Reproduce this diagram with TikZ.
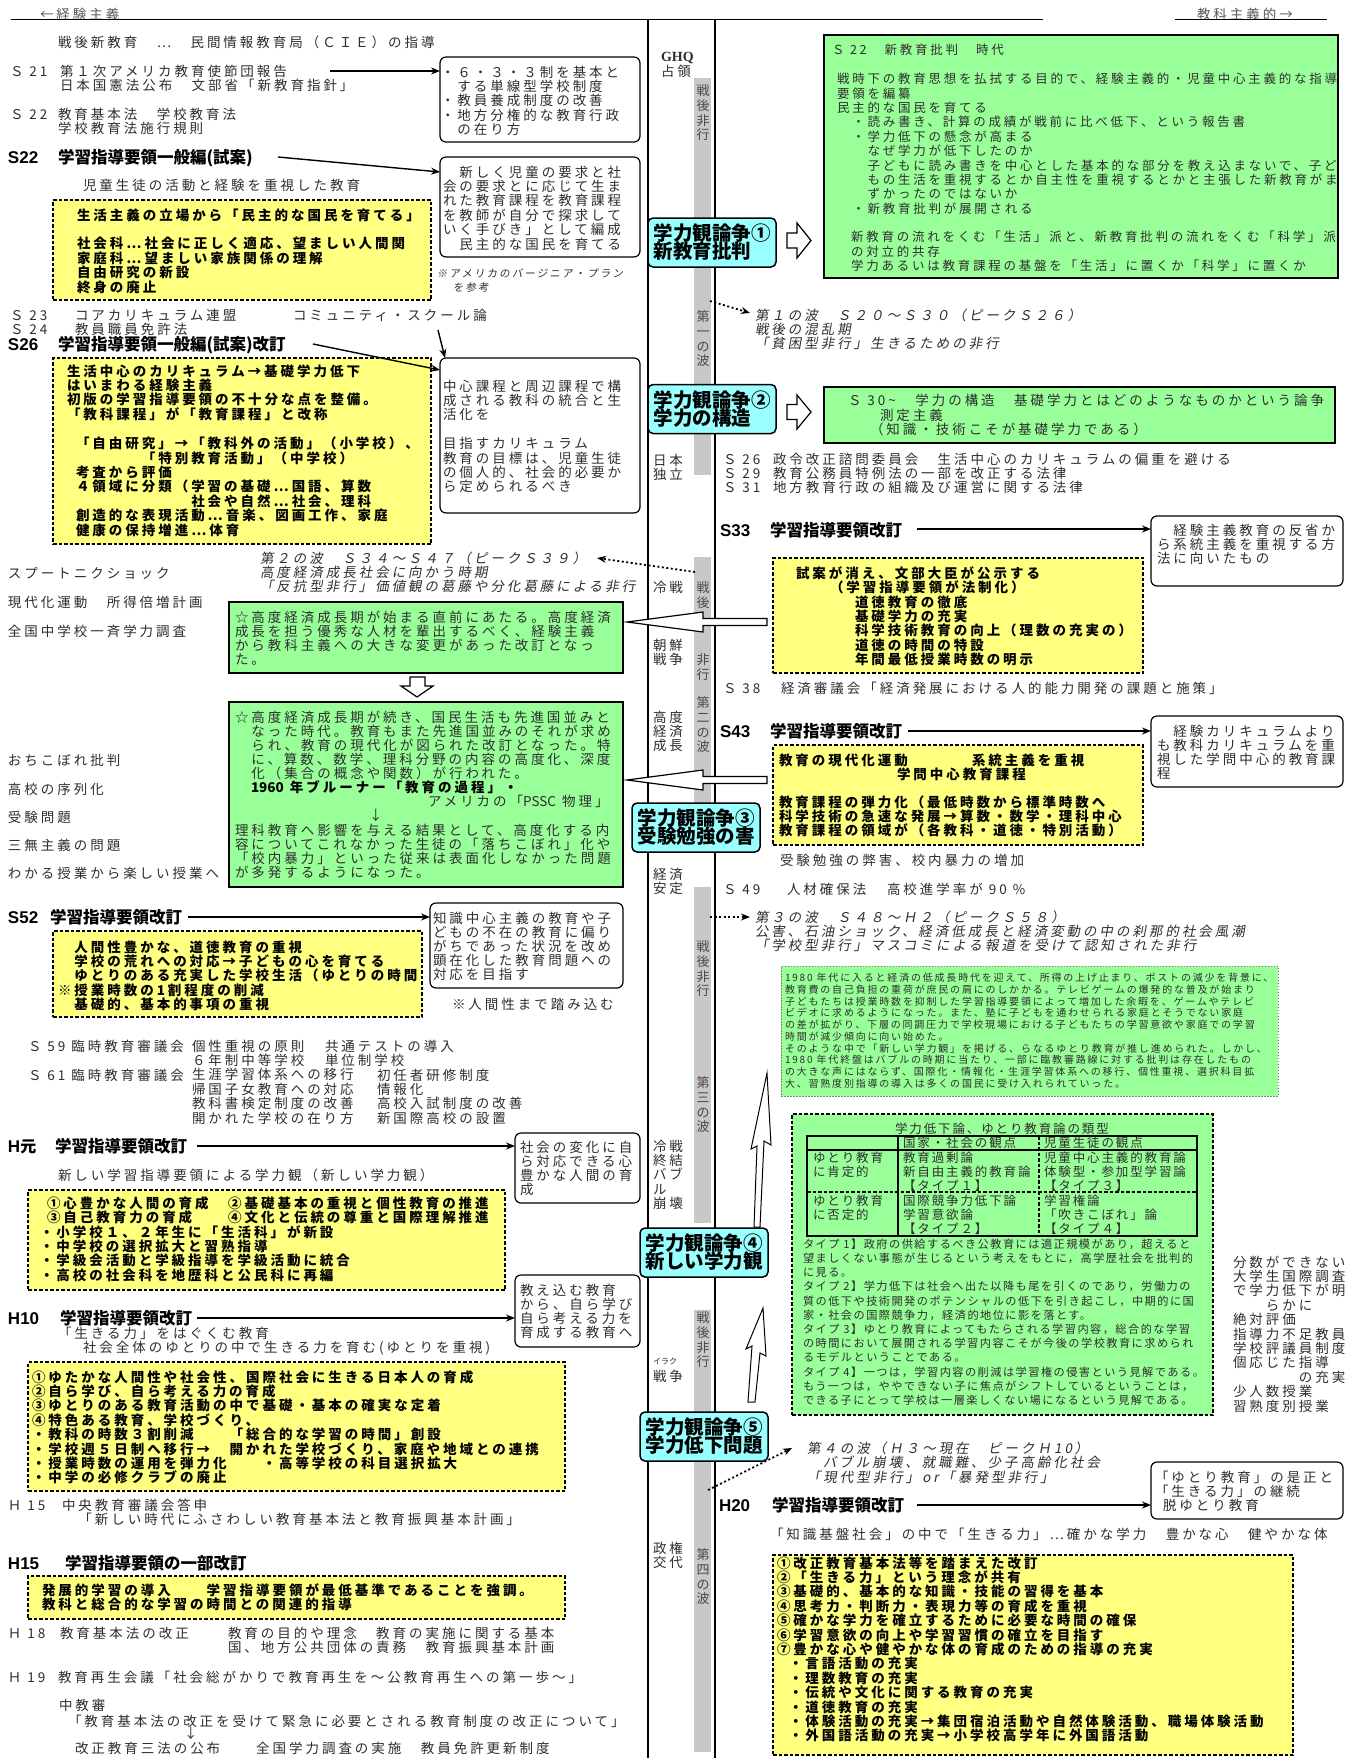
\documentclass[tikz,border=0pt]{standalone}
\usepackage{fontspec}
\setmainfont{Noto Sans CJK JP}
\newfontfamily\jp{Noto Sans CJK JP}[LetterSpace=22]
\newfontfamily\jpm{Noto Sans CJK JP}[LetterSpace=15]
\newfontfamily\jpt{Noto Sans CJK JP}[LetterSpace=13]
\newfontfamily\jps{Noto Sans CJK JP}[LetterSpace=18]
\newfontfamily\jpn{Noto Sans CJK JP}
\newfontfamily\jpi{Noto Sans CJK JP}[LetterSpace=22,FakeSlant=0.18]
\newfontfamily\jpsi{Noto Sans CJK JP}[LetterSpace=20,FakeSlant=0.15]
\newfontfamily\lsans{Liberation Sans}
\newfontfamily\lserif{Liberation Serif}
\usetikzlibrary{calc,arrows.meta}
\lineskiplimit=-50pt
\definecolor{grn}{RGB}{153,255,153}
\definecolor{yel}{RGB}{255,255,128}
\definecolor{cyn}{RGB}{153,255,255}
\definecolor{barg}{RGB}{200,200,200}
\definecolor{txtc}{RGB}{45,45,45}
\definecolor{vtc}{RGB}{85,65,85}
\newcommand\st{\rule{0pt}{1em}}
\tikzset{
  tbase/.style={inner sep=0pt, outer sep=0pt, align=left, anchor=north west},
  tx/.style={tbase, font=\jp\fontsize{13.5}{14.4}\selectfont, text=txtc, yshift=8.37pt},
  txg/.style={tbase, font=\jp\fontsize{13.5}{14.2}\selectfont, text=txtc, yshift=8.37pt},
  txb/.style={tbase, font=\jp\bfseries\fontsize{13.5}{14.4}\selectfont, text=black, yshift=8.37pt},
  txa/.style={tbase, font=\jp\fontsize{12.5}{14.4}\selectfont, text=txtc, yshift=7.75pt},
  hd/.style={tbase, font=\jpn\bfseries\fontsize{16.5}{18}\selectfont, text=black, yshift=10.23pt},
  lab/.style={tbase, font=\lsans\bfseries\fontsize{17}{18}\selectfont, text=black, yshift=10.9pt},
  itx/.style={tbase, font=\jpi\fontsize{13.5}{14.4}\selectfont, text=txtc, yshift=8.37pt},
  smx/.style={tbase, font=\jps\fontsize{10}{11.7}\selectfont, text=txtc, yshift=6.2pt},
  tbx/.style={tbase, font=\jpm\fontsize{12.5}{14.1}\selectfont, text=txtc, yshift=7.75pt},
  tyx/.style={tbase, font=\jpt\fontsize{11.2}{14.2}\selectfont, text=txtc, yshift=6.95pt},
  ntx/.style={tbase, font=\jpsi\fontsize{10.5}{14}\selectfont, text=txtc, yshift=6.5pt},
  vtx/.style={inner sep=0pt, outer sep=0pt, align=center, anchor=north, font=\jpn\fontsize{13}{14.6}\selectfont, text=vtc, yshift=8.06pt},
  rbox/.style={draw, line width=1.2pt, rounded corners=6pt, fill=white, inner sep=0pt, outer sep=0pt, anchor=north west},
  ybox/.style={draw, dash pattern=on 3.5pt off 2pt, line width=1.2pt, fill=yel, inner sep=0pt, outer sep=0pt, anchor=north west},
  gbox/.style={draw, line width=1.2pt, fill=grn, inner sep=0pt, outer sep=0pt, anchor=north west},
  gsbox/.style={draw=gray, dash pattern=on 1.5pt off 1.5pt, line width=0.8pt, fill=grn, inner sep=0pt, outer sep=0pt, anchor=north west},
  gdbox/.style={draw, dash pattern=on 3.5pt off 2pt, line width=1.2pt, fill=grn, inner sep=0pt, outer sep=0pt, anchor=north west},
  cy/.style={draw, fill=cyn, line width=1.5pt, rounded corners=5pt, minimum width=128pt, minimum height=49pt, inner sep=0pt, align=left, font=\jpn\bfseries\fontsize{19.5}{18}\selectfont, text=black},
  arr/.style={line width=1.4pt, -{Stealth[length=9pt,width=7pt]}},
  darr/.style={line width=1.8pt, dash pattern=on 2pt off 2.5pt, -{Stealth[length=9pt,width=7pt]}},
  harrow/.style={draw, fill=white, line width=1.2pt, line join=miter},
}
\begin{document}
\begin{tikzpicture}[x=1pt,y=-1pt]
\useasboundingbox (0,0) rectangle (1354,1758);
\fill[white] (0,0) rectangle (1354,1758);

% ---------- header ----------
\node[tx,text=black!65] (hl) at (40,14) {\st ←経験主義};
\node[tx,text=black!65] (hr) at (1197,14) {\st 教科主義的→};
\draw[line width=1pt] (11,20)--(1043,20) (1175,20)--(1327,20);

% ---------- timeline ----------
\fill[barg] (694,78) rectangle (711,475);
\fill[barg] (694,557) rectangle (711,852);
\fill[barg] (694,887) rectangle (711,1223);
\fill[barg] (694,1310) rectangle (711,1752);
\draw[line width=1.2pt] (648,20)--(648,1758) (715,20)--(715,1758);

\node[vtx] (v1) at (703,91) {\st 戦\\後\\非\\行};
\node[vtx] (v2) at (703,317) {\st 第\\一\\の\\波};
\node[vtx] (v3) at (703,588) {\st 戦\\後};
\node[vtx] (v4) at (703,660) {\st 非\\行};
\node[vtx] (v5) at (703,703) {\st 第\\二\\の\\波};
\node[vtx] (v6) at (703,947) {\st 戦\\後\\非\\行};
\node[vtx] (v7) at (703,1083) {\st 第\\三\\の\\波};
\node[vtx] (v8) at (703,1318) {\st 戦\\後\\非\\行};
\node[vtx] (v9) at (703,1555) {\st 第\\四\\の\\波};

\node[tx] (e0) at (661,56) {\st{\lserif\bfseries\fontsize{14}{14}\selectfont GHQ}};
\node[tx] (e1) at (661,71) {\st 占領};
\node[tx] (e2) at (653,460) {\st 日本\\独立};
\node[tx] (e3) at (653,587) {\st 冷戦};
\node[tx] (e4) at (653,645) {\st 朝鮮\\戦争};
\node[tx] (e5) at (653,717) {\st 高度\\経済\\成長};
\node[tx] (e6) at (653,874) {\st 経済\\安定};
\node[tx] (e7) at (653,1146) {\st 冷戦\\終結\\バブ\\ル\\崩壊};
\node[tbase,font=\jpn\fontsize{8}{9}\selectfont,text=txtc,yshift=5pt] (e8a) at (653,1361) {\st イラク};
\node[tx] (e8) at (653,1376) {\st 戦争};
\node[tx] (e9) at (653,1548) {\st 政権\\交代};

% ---------- boxes left ----------
\node[rbox,minimum width=200pt,minimum height=85pt] (bx1) at (440,57) {};
\node[rbox,minimum width=200pt,minimum height=100pt] (bx2) at (440,157) {};
\node[ybox,minimum width=378pt,minimum height=100pt] (yb1) at (53,200) {};
\node[rbox,minimum width=200pt,minimum height=155pt] (bx3) at (440,358) {};
\node[ybox,minimum width=378pt,minimum height=186pt] (yb2) at (53,358) {};
\node[gbox,minimum width=394pt,minimum height=71pt] (gb1) at (229,602) {};
\node[gbox,minimum width=394pt,minimum height=185pt] (gb2) at (229,702) {};
\node[rbox,minimum width=193pt,minimum height=85pt] (bx52) at (430,903) {};
\node[ybox,minimum width=369pt,minimum height=86pt] (yb3) at (53,931) {};
\node[rbox,minimum width=125pt,minimum height=70pt] (bxH1) at (515,1133) {};
\node[ybox,minimum width=477pt,minimum height=100pt] (yb4) at (28,1190) {};
\node[rbox,minimum width=125pt,minimum height=72pt] (bxH10) at (515,1275) {};
\node[ybox,minimum width=537pt,minimum height=129pt] (yb5) at (28,1362) {};
\node[ybox,minimum width=537pt,minimum height=43pt] (yb6) at (28,1576) {};

% ---------- boxes right ----------
\node[gbox,minimum width=514pt,minimum height=243pt] (gA) at (824,35) {};
\node[gbox,minimum width=511pt,minimum height=56pt] (gB) at (824,387) {};
\node[rbox,minimum width=192pt,minimum height=70pt] (bx33) at (1151,516) {};
\node[ybox,minimum width=370pt,minimum height=115pt] (yb33) at (773,558) {};
\node[rbox,minimum width=192pt,minimum height=71pt] (bx43) at (1151,716) {};
\node[ybox,minimum width=370pt,minimum height=100pt] (yb43) at (773,745) {};
\node[gsbox,minimum width=497pt,minimum height=130pt] (gC) at (781,966) {};
\node[gdbox,minimum width=421pt,minimum height=301pt] (gD) at (792,1114) {};
\node[rbox,minimum width=192pt,minimum height=57pt] (bxH20) at (1151,1462) {};
\node[ybox,minimum width=520pt,minimum height=200pt] (yb20) at (773,1555) {};

% table
\draw[line width=1.1pt] (807,1136) rectangle (1197,1236);
\draw[line width=1.1pt] (898,1136)--(898,1236) (807,1150)--(1197,1150);
\draw[line width=1.1pt,dash pattern=on 3.5pt off 2pt] (1039,1136)--(1039,1236) (807,1192)--(1197,1192);

% ---------- left texts ----------
\node[tx] (t0) at (58,42) {\st 戦後新教育　…　民間情報教育局（ＣＩＥ）の指導};
\node[tx] (s21) at (10,71) {\st Ｓ 21};
\node[tx] (t21) at (60,71) {\st 第１次アメリカ教育使節団報告\\日本国憲法公布　文部省「新教育指針」};
\node[tx] (s22) at (10,114) {\st Ｓ 22};
\node[tx] (t22) at (58,114) {\st 教育基本法　学校教育法\\学校教育法施行規則};
\node[lab] (l22) at (8,157) {\st S22};
\node[hd] (h22) at (58,157) {\st 学習指導要領一般編(試案)};
\node[tx] (t22b) at (83,185) {\st 児童生徒の活動と経験を重視した教育};
\node[txb] (y1t) at (77,215) {\st 生活主義の立場から「民主的な国民を育てる」\\　\\社会科…社会に正しく適応、望ましい人間関\\家庭科…望ましい家族関係の理解\\自由研究の新設\\終身の廃止};

\node[tx] (bx1t) at (441,72) {\st ・６・３・３制を基本と\\　する単線型学校制度\\・教員養成制度の改善\\・地方分権的な教育行政\\　の在り方};
\node[tx] (bx2t) at (443,172) {\st 　新しく児童の要求と社\\会の要求とに応じて生ま\\れた教育課程を教育課程\\を教師が自分で探求して\\いく手びき」として編成\\　民主的な国民を育てる};
\node[ntx] (nt1) at (437,273) {\st ※アメリカのバージニア・プラン\\\hspace*{16pt}を参考};

\node[tx] (s23) at (10,315) {\st Ｓ 23\\Ｓ 24};
\node[tx] (t23) at (75,315) {\st コアカリキュラム連盟\\教員職員免許法};
\node[tx] (t23b) at (293,315) {\st コミュニティ・スクール論};
\node[lab] (l26) at (8,344) {\st S26};
\node[hd] (h26) at (58,344) {\st 学習指導要領一般編(試案)改訂};
\node[txb] (y2t) at (67,371) {\st 生活中心のカリキュラム→基礎学力低下\\はいまわる経験主義\\初版の学習指導要領の不十分な点を整備。\\「教科課程」が「教育課程」と改称};
\node[txb] (y2u) at (76,443.5) {\st 「自由研究」→「教科外の活動」（小学校）、\\　　　　「特別教育活動」（中学校）\\考査から評価\\４領域に分類（学習の基礎…国語、算数\\　　　　　　　社会や自然…社会、理科\\創造的な表現活動…音楽、図画工作、家庭\\健康の保持増進…体育};
\node[tx] (bx3t) at (443,386) {\st 中心課程と周辺課程で構\\成される教科の統合と生\\活化を\\　\\目指すカリキュラム\\教育の目標は、児童生徒\\の個人的、社会的必要か\\ら定められるべき};

\node[tx] (k1) at (8,573) {\st スプートニクショック};
\node[tx] (k2) at (8,602) {\st 現代化運動　所得倍増計画};
\node[tx] (k3) at (8,631) {\st 全国中学校一斉学力調査};
\node[tx] (k4) at (8,760) {\st おちこぼれ批判};
\node[tx] (k5) at (8,789) {\st 高校の序列化};
\node[tx] (k6) at (8,817) {\st 受験問題};
\node[tx] (k7) at (8,845) {\st 三無主義の問題};
\node[tx] (k8) at (8,873) {\st わかる授業から楽しい授業へ};

\node[itx] (w2) at (260,558) {\st 第２の波　Ｓ３４～Ｓ４７（ピークＳ３９）\\高度経済成長社会に向かう時期\\「反抗型非行」価値観の葛藤や分化葛藤による非行};

\node[txg] (g1t) at (235,617) {\st ☆高度経済成長期が始まる直前にあたる。高度経済\\成長を担う優秀な人材を輩出するべく、経験主義\\から教科主義への大きな変更があった改訂となっ\\た。};
\node[txg] (g2t) at (235,717) {\st ☆高度経済成長期が続き、国民生活も先進国並みと\\　なった時代。教育もまた先進国並みのそれが求め\\　られ、教育の現代化が図られた改訂となった。特\\　に、算数、数学、理科分野の内容の高度化、深度\\　化（集合の概念や関数）が行われた。};
\node[txb] (g2u) at (251,787) {\st {\jpn 1960} 年ブルーナー「教育の過程」・};
\node[tx] (g2v) at (428,801) {\st アメリカの「{\jpn PSSC} 物理」};
\node[tx] (g2a) at (369,815) {\st ↓};
\node[txg] (g2w) at (235,830) {\st 理科教育へ影響を与える結果として、高度化する内\\容についてこれなかった生徒の「落ちこぼれ」化や\\「校内暴力」といった従来は表面化しなかった問題\\が多発するようになった。};

\node[lab] (l52) at (8,917) {\st S52};
\node[hd] (h52) at (50,917) {\st 学習指導要領改訂};
\node[txb] (y3t) at (58,947) {\st 　人間性豊かな、道徳教育の重視\\　学校の荒れへの対応→子どもの心を育てる\\　ゆとりのある充実した学校生活（ゆとりの時間\\※授業時数の1割程度の削減\\　基礎的、基本的事項の重視};
\node[txg] (b52t) at (433,918) {\st 知識中心主義の教育や子\\どもの不在の教育に偏り\\がちであった状況を改め\\顕在化した教育問題への\\対応を目指す};
\node[tx] (n52) at (452,1004) {\st ※人間性まで踏み込む};

\node[tx] (s59) at (28,1046) {\st Ｓ 59 臨時教育審議会};
\node[tx] (s61) at (28,1075) {\st Ｓ 61 臨時教育審議会};
\node[tx] (r1) at (192,1046) {\st 個性重視の原則\\６年制中等学校\\生涯学習体系への移行\\帰国子女教育への対応\\教科書検定制度の改善\\開かれた学校の在り方};
\node[tx] (r2) at (325,1046) {\st 共通テストの導入\\単位制学校};
\node[tx] (r3) at (377,1075) {\st 初任者研修制度\\情報化\\高校入試制度の改善\\新国際高校の設置};

\node[lab] (lH1) at (8,1146) {\st H{\jpn\bfseries\fontsize{16}{18}\selectfont 元}};
\node[hd] (hH1) at (55,1146) {\st 学習指導要領改訂};
\node[txg] (bH1t) at (520,1147) {\st 社会の変化に自\\ら対応できる心\\豊かな人間の育\\成};
\node[tx] (tH1) at (58,1175) {\st 新しい学習指導要領による学力観（新しい学力観）};
\node[txb] (y4t) at (47,1203) {\st ①心豊かな人間の育成　②基礎基本の重視と個性教育の推進\\③自己教育力の育成　　④文化と伝統の尊重と国際理解推進};
\node[txb] (y4u) at (40,1232) {\st ・小学校１、２年生に「生活科」が新設\\・中学校の選択拡大と習熟指導\\・学級会活動と学級指導を学級活動に統合\\・高校の社会科を地歴科と公民科に再編};

\node[lab] (l10) at (8,1318) {\st H10};
\node[hd] (h10) at (60,1318) {\st 学習指導要領改訂};
\node[txg] (bH10t) at (520,1290) {\st 教え込む教育\\から、自ら学び\\自ら考える力を\\育成する教育へ};
\node[tx] (t10) at (58,1333) {\st 「生きる力」をはぐくむ教育};
\node[tx] (t10b) at (83,1347) {\st 社会全体のゆとりの中で生きる力を育む(ゆとりを重視)};
\node[txb] (y5t) at (32,1377) {\st ①ゆたかな人間性や社会性、国際社会に生きる日本人の育成\\②自ら学び、自ら考える力の育成\\③ゆとりのある教育活動の中で基礎・基本の確実な定着\\④特色ある教育、学校づくり、\\・教科の時数３割削減　　「総合的な学習の時間」創設\\・学校週５日制へ移行→　開かれた学校づくり、家庭や地域との連携\\・授業時数の運用を弾力化　　・高等学校の科目選択拡大\\・中学の必修クラブの廃止};

\node[tx] (s15) at (8,1505) {\st Ｈ 15};
\node[tx] (t15) at (62,1505) {\st 中央教育審議会答申\\　「新しい時代にふさわしい教育基本法と教育振興基本計画」};
\node[lab] (l15) at (8,1563) {\st H15};
\node[hd] (h15) at (65,1563) {\st 学習指導要領の一部改訂};
\node[txb] (y6t) at (42,1590) {\st 発展的学習の導入　　学習指導要領が最低基準であることを強調。\\教科と総合的な学習の時間との関連的指導};
\node[tx] (s18) at (8,1633) {\st Ｈ 18};
\node[tx] (t18) at (60,1633) {\st 教育基本法の改正};
\node[tx] (t18b) at (228,1633) {\st 教育の目的や理念　教育の実施に関する基本\\国、地方公共団体の責務　教育振興基本計画};
\node[tx] (s19) at (8,1677) {\st Ｈ 19};
\node[tx] (t19) at (58,1677) {\st 教育再生会議「社会総がかりで教育再生を～公教育再生への第一歩～」};
\node[tx] (t19b) at (59,1705) {\st 中教審};
\node[tx] (t19c) at (68,1721) {\st 「教育基本法の改正を受けて緊急に必要とされる教育制度の改正について」};
\node[tx] (t19d) at (184,1733) {\st ↓};
\node[tx] (t19e) at (75,1748) {\st 改正教育三法の公布　　全国学力調査の実施　教員免許更新制度};

% ---------- right texts ----------
\node[txa] (gAt0) at (832,50) {\st Ｓ 22　新教育批判　時代};
\node[txa] (gAt1) at (837,79) {\st 戦時下の教育思想を払拭する目的で、経験主義的・児童中心主義的な指導\\要領を編纂\\民主的な国民を育てる\\　・読み書き、計算の成績が戦前に比べ低下、という報告書\\　・学力低下の懸念が高まる\\　　なぜ学力が低下したのか\\　　子どもに読み書きを中心とした基本的な部分を教え込まないで、子ど\\　　もの生活を重視するとか自主性を重視するとかと主張した新教育がま\\　　ずかったのではないか\\　・新教育批判が展開される};
\node[txa] (gAt2) at (851,237) {\st 新教育の流れをくむ「生活」派と、新教育批判の流れをくむ「科学」派\\の対立的共存\\学力あるいは教育課程の基盤を「生活」に置くか「科学」に置くか};
\node[txg] (gBt) at (848,400) {\st Ｓ 30\textasciitilde　学力の構造　基礎学力とはどのようなものかという論争};
\node[txg] (gBt2) at (880,415) {\st 測定主義};
\node[txg] (gBt3) at (870,429) {\st （知識・技術こそが基礎学力である）};

\node[itx] (w1) at (755,315) {\st 第１の波　Ｓ２０～Ｓ３０（ピークＳ２６）\\戦後の混乱期\\「貧困型非行」生きるための非行};

\node[tx] (s26) at (723,459) {\st Ｓ 26\\Ｓ 29\\Ｓ 31};
\node[tx] (t26) at (773,459) {\st 政令改正諮問委員会　生活中心のカリキュラムの偏重を避ける\\教育公務員特例法の一部を改正する法律\\地方教育行政の組織及び運営に関する法律};

\node[lab] (l33) at (720,530) {\st S33};
\node[hd] (h33) at (770,530) {\st 学習指導要領改訂};
\node[txg] (b33t) at (1157,530) {\st 　経験主義教育の反省か\\ら系統主義を重視する方\\法に向いたもの};
\node[txb] (y33a) at (796,573) {\st 試案が消え、文部大臣が公示する};
\node[txb] (y33b) at (830,587) {\st （学習指導要領が法制化）};
\node[txb] (y33c) at (855,602) {\st 道徳教育の徹底\\基礎学力の充実\\科学技術教育の向上（理数の充実の）\\道徳の時間の特設\\年間最低授業時数の明示};
\node[tx] (s38) at (723,688) {\st Ｓ 38};
\node[tx] (t38) at (781,688) {\st 経済審議会「経済発展における人的能力開発の課題と施策」};

\node[lab] (l43) at (720,731) {\st S43};
\node[hd] (h43) at (770,731) {\st 学習指導要領改訂};
\node[txg] (b43t) at (1157,731) {\st 　経験カリキュラムより\\も教科カリキュラムを重\\視した学問中心的教育課\\程};
\node[txb] (y43a) at (779,760) {\st 教育の現代化運動};
\node[txb] (y43b) at (972,760) {\st 系統主義を重視};
\node[txb] (y43c) at (897,774) {\st 学問中心教育課程};
\node[txb] (y43d) at (779,802) {\st 教育課程の弾力化（最低時数から標準時数へ\\科学技術の急速な発展→算数・数学・理科中心\\教育課程の領域が（各教科・道徳・特別活動）};
\node[tx] (t43) at (780,860) {\st 受験勉強の弊害、校内暴力の増加};
\node[tx] (s49) at (723,889) {\st Ｓ 49};
\node[tx] (t49) at (787,889) {\st 人材確保法};
\node[tx] (t49b) at (887,889) {\st 高校進学率が 90 \%};

\node[itx] (w3) at (755,917) {\st 第３の波　Ｓ４８～Ｈ２（ピークＳ５８）\\公害、石油ショック、経済低成長と経済変動の中の刹那的社会風潮\\「学校型非行」マスコミによる報道を受けて認知された非行};

\node[smx] (gCt) at (785,978) {\st 1980 年代に入ると経済の低成長時代を迎えて、所得の上げ止まり、ポストの減少を背景に、\\教育費の自己負担の重荷が庶民の肩にのしかかる。テレビゲームの爆発的な普及が始まり\\子どもたちは授業時数を抑制した学習指導要領によって増加した余暇を、ゲームやテレビ\\ビデオに求めるようになった。また、塾に子どもを通わせられる家庭とそうでない家庭\\の差が拡がり、下層の同調圧力で学校現場における子どもたちの学習意欲や家庭での学習\\時間が減少傾向に向い始めた。\\そのような中で「新しい学力観」を掲げる、らなるゆとり教育が推し進められた。しかし、\\1980 年代終盤はバブルの時期に当たり、一部に臨教審路線に対する批判は存在したもの\\の大きな声にはならず、国際化・情報化・生涯学習体系への移行、個性重視、選択科目拡\\大、習熟度別指導の導入は多くの国民に受け入れられていった。};

\node[tbx] (gDt) at (895,1129) {\st 学力低下論、ゆとり教育論の類型};
\node[tbx] (c01) at (903,1143) {\st 国家・社会の観点};
\node[tbx] (c02) at (1044,1143) {\st 児童生徒の観点};
\node[tbx] (c10) at (813,1158) {\st ゆとり教育\\に肯定的};
\node[tbx] (c11) at (903,1158) {\st 教育過剰論\\新自由主義的教育論\\【タイプ１】};
\node[tbx] (c12) at (1044,1158) {\st 児童中心主義的教育論\\体験型・参加型学習論\\【タイプ３】};
\node[tbx] (c20) at (813,1201) {\st ゆとり教育\\に否定的};
\node[tbx] (c21) at (903,1201) {\st 国際競争力低下論\\学習意欲論\\【タイプ２】};
\node[tbx] (c22) at (1044,1201) {\st 学習権論\\「吹きこぼれ」論\\【タイプ４】};
\node[tyx] (gDy) at (803,1244) {\st タイプ 1】政府の供給するべき公教育には適正規模があり，超えると\\望ましくない事態が生じるという考えをもとに，高学歴社会を批判的\\に見る。\\タイプ 2】学力低下は社会へ出た以降も尾を引くのであり，労働力の\\質の低下や技術開発のポテンシャルの低下を引き起こし，中期的に国\\家・社会の国際競争力，経済的地位に影を落とす。\\タイプ 3】ゆとり教育によってもたらされる学習内容，総合的な学習\\の時間において展開される学習内容こそが今後の学校教育に求められ\\るモデルということである。\\タイプ 4】一つは，学習内容の削減は学習権の侵害という見解である。\\もう一つは，ややできない子に焦点がシフトしているということは，\\できる子にとって学校は一層楽しくない場になるという見解である。};

\node[tx] (rl) at (1233,1262) {\st 分数ができない\\大学生国際調査\\で学力低下が明\\　　らかに\\絶対評価\\指導力不足教員\\学校評議員制度\\個応じた指導\\　　　　の充実\\少人数授業\\習熟度別授業};

\node[itx] (w4) at (807,1448) {\st 第４の波（Ｈ３～現在　ピークＨ10）};
\node[itx] (w4b) at (823,1462) {\st バブル崩壊、就職難、少子高齢化社会};
\node[itx] (w4c) at (807,1477) {\st 「現代型非行」or「暴発型非行」};

\node[lab] (l20) at (719,1505) {\st H20};
\node[hd] (h20) at (772,1505) {\st 学習指導要領改訂};
\node[txg] (b20t) at (1155,1477) {\st 「ゆとり教育」の是正と\\「生きる力」の継続\\\hspace*{8pt}脱ゆとり教育};
\node[tx] (t20) at (770,1534) {\st 「知識基盤社会」の中で「生きる力」…確かな学力　豊かな心　健やかな体};
\node[txb] (y20t) at (777,1563) {\st ①改正教育基本法等を踏まえた改訂\\②「生きる力」という理念が共有\\③基礎的、基本的な知識・技能の習得を基本\\④思考力・判断力・表現力等の育成を重視\\⑤確かな学力を確立するために必要な時間の確保\\⑥学習意欲の向上や学習習慣の確立を目指す\\⑦豊かな心や健やかな体の育成のための指導の充実\\\hspace*{12pt}・言語活動の充実\\\hspace*{12pt}・理数教育の充実\\\hspace*{12pt}・伝統や文化に関する教育の充実\\\hspace*{12pt}・道徳教育の充実\\\hspace*{12pt}・体験活動の充実→集団宿泊活動や自然体験活動、職場体験活動\\\hspace*{12pt}・外国語活動の充実→小学校高学年に外国語活動};

% ---------- hollow arrows ----------
\draw[harrow] (627,622)--(703,612)--(703,618.5)--(767,618.5)--(767,625.5)--(703,625.5)--(703,632)--cycle;
\draw[harrow] (627,780)--(703,770)--(703,776.5)--(767,776.5)--(767,783.5)--(703,783.5)--(703,790)--cycle;
\draw[harrow] (787,233)--(797,233)--(797,223)--(811,240.5)--(797,258)--(797,248)--(787,248)--cycle;
\draw[harrow] (787,404.5)--(797,404.5)--(797,395)--(811,412)--(797,429)--(797,419.5)--(787,419.5)--cycle;
\draw[harrow] (410,677)--(425,677)--(425,686)--(433,686)--(417,697)--(401,686)--(410,686)--cycle;
\draw[harrow,line width=1pt] (767,1073)--(771,1145)--(764,1141)--(760,1227)--(754,1227)--(757,1146)--(751,1149)--cycle;
\draw[harrow,line width=1pt] (763,1308)--(766,1356)--(760,1353)--(755,1402)--(748,1402)--(752,1346)--(746,1349)--cycle;

% ---------- connectors ----------
\coordinate (a1s) at (330,71);
\coordinate (a2s) at (278,157);
\coordinate (a3s) at (313,344);
\coordinate (a4s) at (438,330);
\coordinate (a5s) at (188,917);
\coordinate (a6s) at (197,1146);
\coordinate (a7s) at (197,1318);
\coordinate (a8s) at (917,529);
\coordinate (a9s) at (908,731);
\coordinate (a10s) at (917,1505);
\draw[arr] (a1s) -- ($(bx1.north west)+(0,14)$);
\draw[arr] (a2s) -- ($(bx2.north west)+(0,15)$);
\draw[arr] (a3s) -- ($(bx3.north west)+(0,12)$);
\draw[arr] (a4s) -- ($(bx3.north west)+(5,0)$);
\draw[arr] (a5s) -- ($(bx52.north west)+(0,14)$);
\draw[arr] (a6s) -- ($(bxH1.north west)+(0,13)$);
\draw[arr] (a7s) -- ($(bxH10.north west)+(0,43)$);
\draw[arr] (a8s) -- ($(bx33.north west)+(0,13)$);
\draw[arr] (a9s) -- ($(bx43.north west)+(0,15)$);
\draw[arr] (a10s) -- ($(bxH20.north west)+(0,43)$);

\coordinate (d1s) at (710,301); \coordinate (d1e) at (750,313);
\coordinate (d2s) at (695,572); \coordinate (d2e) at (597,558);
\coordinate (d3s) at (710,917); \coordinate (d3e) at (750,917);
\coordinate (d4s) at (708,1490); \coordinate (d4e) at (792,1448);
\draw[darr] (d1s) -- (d1e);
\draw[darr] (d2s) -- (d2e);
\draw[darr] (d3s) -- (d3e);
\draw[darr] (d4s) -- (d4e);

% ---------- cyan boxes ----------
\node[cy] (c1) at (712,242.5) {学力観論争①\\新教育批判};
\node[cy] (c2) at (712,409) {学力観論争②\\学力の構造};
\node[cy] (c3) at (696,827.5) {学力観論争③\\受験勉強の害};
\node[cy] (c4) at (704,1252.5) {学力観論争④\\新しい学力観};
\node[cy] (c5) at (704,1436.5) {学力観論争⑤\\学力低下問題};
\end{tikzpicture}
\end{document}
